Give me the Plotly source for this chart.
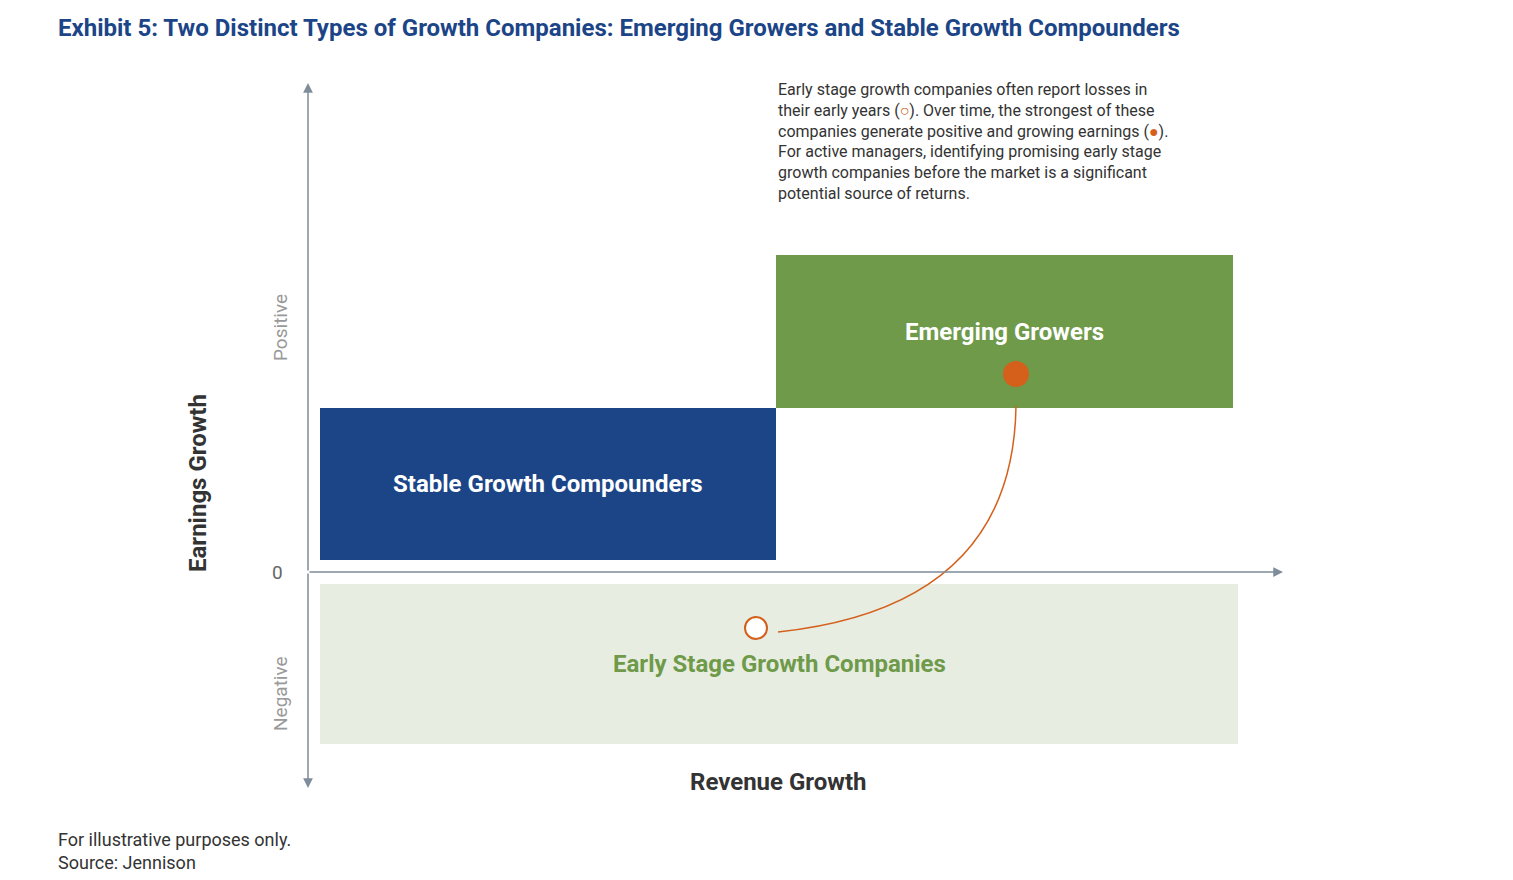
import plotly.graph_objects as go

# conceptual units: origin = (0, 0); 1 unit ~ 100 px
box_names = ["Stable Growth Compounders", "Emerging Growers", "Early Stage Growth Companies"]
box_x0 = [0.12, 4.68, 0.12]
box_x1 = [4.68, 9.25, 9.30]
box_y0 = [0.12, 1.64, -1.72]
box_y1 = [1.64, 3.17, -0.12]
box_fill = ["#1c4587", "#6f9a4a", "#e8ede2"]
box_text = ["white", "white", "#6f9a4a"]
box_label_y = [0.88, 2.40, -0.92]

early_pt = (4.48, -0.56)
mature_pt = (7.08, 1.98)
curve_ctrl = [(4.70, -0.60), (7.05, -0.35), (7.08, 1.66)]

orange = "#d4601c"
grey = "#7f8c99"
font = "Liberation Sans Narrow, Roboto, Arial"

fig = go.Figure()

for i, name in enumerate(box_names):
    fig.add_shape(type="rect", x0=box_x0[i], x1=box_x1[i], y0=box_y0[i], y1=box_y1[i],
                  fillcolor=box_fill[i], line=dict(width=0), layer="below")
    fig.add_annotation(x=(box_x0[i] + box_x1[i]) / 2, y=box_label_y[i], text=f"<b>{name}</b>",
                       showarrow=False, font=dict(size=24, color=box_text[i], family=font))

# growth path curve
p0, p1, p2 = curve_ctrl
fig.add_shape(type="path", path=f"M {p0[0]},{p0[1]} Q {p1[0]},{p1[1]} {p2[0]},{p2[1]}",
              line=dict(color=orange, width=1.5))

fig.add_trace(go.Scatter(x=[early_pt[0]], y=[early_pt[1]], mode="markers",
                         marker=dict(size=22, color="white", line=dict(color=orange, width=2)),
                         showlegend=False, hoverinfo="skip"))
fig.add_trace(go.Scatter(x=[mature_pt[0]], y=[mature_pt[1]], mode="markers",
                         marker=dict(size=26, color=orange, line=dict(width=0)),
                         showlegend=False, hoverinfo="skip"))

# axes with arrows
for ax, ay, x, y in [(0, 0, 9.75, 0), (0, 0, 0, 4.89), (0, 0, 0, -2.16)]:
    fig.add_annotation(x=x, y=y, ax=ax, ay=ay, xref="x", yref="y", axref="x", ayref="y",
                       showarrow=True, arrowhead=2, arrowsize=1.3, arrowwidth=1.5,
                       arrowcolor=grey, text="")

fig.add_annotation(x=-0.31, y=0, text="0", showarrow=False,
                   font=dict(size=19, color="#666", family=font))
fig.add_annotation(x=-0.28, y=2.44, text="Positive", textangle=-90, showarrow=False,
                   font=dict(size=19, color="#999", family=font))
fig.add_annotation(x=-0.28, y=-1.22, text="Negative", textangle=-90, showarrow=False,
                   font=dict(size=19, color="#999", family=font))
fig.add_annotation(x=-1.10, y=0.89, text="<b>Earnings Growth</b>", textangle=-90, showarrow=False,
                   font=dict(size=24, color="#333", family=font))
fig.add_annotation(x=4.70, y=-2.10, text="<b>Revenue Growth</b>", showarrow=False,
                   font=dict(size=24, color="#333", family=font))

note = ("Early stage growth companies often report losses in<br>"
        f"their early years (<span style='color:{orange}'>○</span>). Over time, the strongest of these<br>"
        f"companies generate positive and growing earnings (<span style='color:{orange}'>●</span>).<br>"
        "For active managers, identifying promising early stage<br>"
        "growth companies before the market is a significant<br>"
        "potential source of returns.")
fig.add_annotation(x=4.68, y=4.94, text=note, showarrow=False, xanchor="left", yanchor="top",
                   align="left", font=dict(size=16, color="#333", family=font))

fig.add_annotation(x=0.032, y=0.995, xref="paper", yref="paper", xanchor="left", yanchor="top",
                   text="<b>Exhibit 5: Two Distinct Types of Growth Companies: Emerging Growers and Stable Growth Compounders</b>",
                   showarrow=False, font=dict(size=24, color="#1c4587", family=font))
fig.add_annotation(x=0.032, y=0.015, xref="paper", yref="paper", xanchor="left", yanchor="bottom",
                   text="For illustrative purposes only.<br>Source: Jennison", align="left",
                   showarrow=False, font=dict(size=18, color="#333", family=font))

fig.update_xaxes(range=[-3.0, 12.13], visible=False, fixedrange=True)
fig.update_yaxes(range=[-3.16, 5.64], visible=False, fixedrange=True)
fig.update_layout(width=1513, height=880, margin=dict(l=0, r=0, t=0, b=0),
                  plot_bgcolor="white", paper_bgcolor="white")

fig.write_html("out.html")
